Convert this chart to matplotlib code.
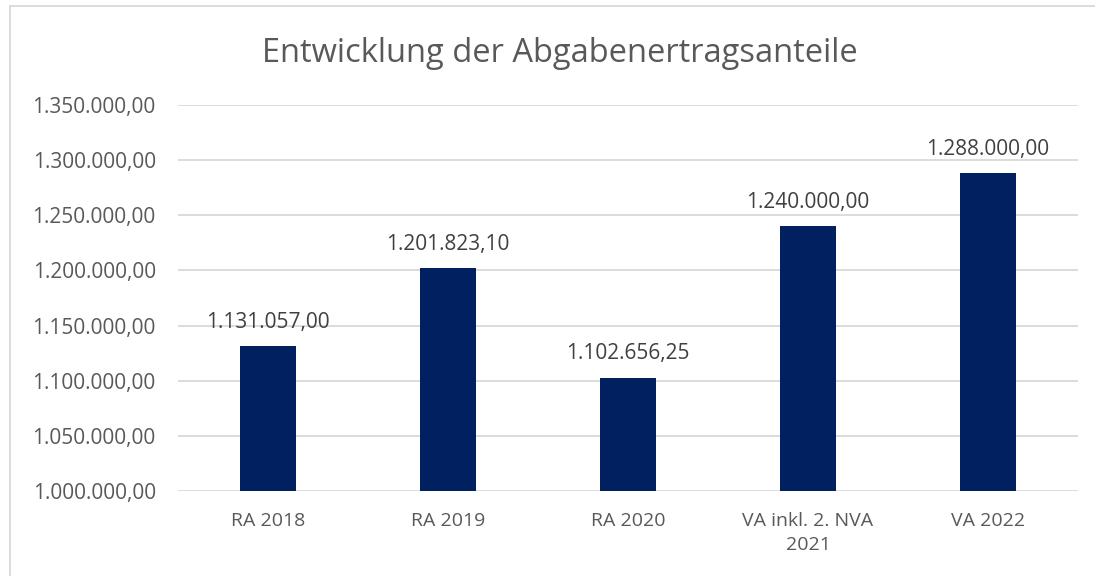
import matplotlib.pyplot as plt
from matplotlib.lines import Line2D
from matplotlib.ticker import FuncFormatter

# Daten
kategorien = ['RA 2018', 'RA 2019', 'RA 2020', 'VA inkl. 2. NVA\n2021', 'VA 2022']
werte = [1131057.00, 1201823.10, 1102656.25, 1240000.00, 1288000.00]
y_ticks = [1000000, 1050000, 1100000, 1150000, 1200000, 1250000, 1300000, 1350000]


def de_format(v, pos=None):
    s = f'{v:,.2f}'
    return s.replace(',', 'X').replace('.', ',').replace('X', '.')


plt.rcParams['font.family'] = ['Open Sans', 'DejaVu Sans']
grau = '#595959'

fig = plt.figure(figsize=(10.95, 5.76), dpi=100)
ax = fig.add_axes([178 / 1095, 85 / 576, 900 / 1095, 386 / 576])

x = range(len(kategorien))
ax.bar(x, werte, width=0.31, color='#002060', zorder=3)

for xi, v in zip(x, werte):
    ax.text(xi, v + 12500, de_format(v), ha='center', va='bottom',
            fontsize=15, color='#404040')

ax.set_xlim(-0.5, len(kategorien) - 0.5)
ax.set_ylim(1000000, 1350000)
ax.set_yticks(y_ticks)
ax.yaxis.set_major_formatter(FuncFormatter(de_format))
ax.set_xticks(list(x))
ax.set_xticklabels(kategorien, linespacing=1.45)
ax.tick_params(axis='both', length=0, labelsize=15, colors=grau)
ax.tick_params(axis='x', pad=15, labelsize=14)
ax.tick_params(axis='y', pad=16)
ax.grid(axis='y', color='#d9d9d9', linewidth=1.3, zorder=0)
for s in ax.spines.values():
    s.set_visible(False)

fig.text(560 / 1095, 1 - 54 / 576, 'Entwicklung der Abgabenertragsanteile',
         ha='center', va='center', fontsize=23.5, color=grau)

# Rahmen des Diagramms
fig.add_artist(Line2D([10 / 1095, 1], [1 - 6 / 576, 1 - 6 / 576],
                      color='#d9d9d9', linewidth=1.3))
fig.add_artist(Line2D([10 / 1095, 10 / 1095], [0, 1 - 6 / 576],
                      color='#d9d9d9', linewidth=1.3))

plt.savefig('out.png', dpi=100)
